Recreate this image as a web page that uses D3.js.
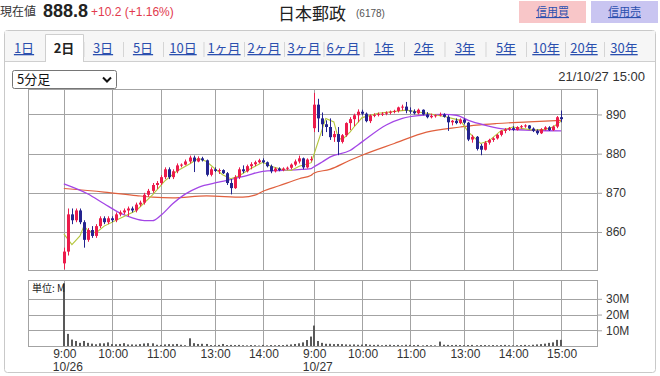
<!DOCTYPE html>
<html>
<head>
<meta charset="utf-8">
<script src="https://cdn.jsdelivr.net/npm/d3@7"></script>
<style>
  body { margin: 0; background: #fff; }
  svg { display: block; }
  text { font-family: "Liberation Sans", Arial, "Noto Sans CJK JP", sans-serif; }
  .jp { font-family: "Noto Sans CJK JP", sans-serif; }
</style>
</head>
<body>
<script>
// GLOBAL VARIABLES
const WIDTH = 660;
const HEIGHT = 376;

// DATA (5-minute bars, 10/26 and 10/27, 62 bars per day)
const days = ["10/26", "10/27"];
const tabs = ["1日", "2日", "3日", "5日", "10日", "1ヶ月", "2ヶ月", "3ヶ月", "6ヶ月", "1年", "2年", "3年", "5年", "10年", "20年", "30年"];
const tabX = [24, 64, 103, 143, 183, 224, 264, 304, 343, 384, 424, 465, 506, 546, 584, 624];
const xTickSlots = [0, 12, 24, 37, 49, 62, 74, 86, 99, 111, 123];
const xTickLabels = ["9:00", "10:00", "11:00", "13:00", "14:00", "9:00", "10:00", "11:00", "13:00", "14:00", "15:00"];
const priceTicks = [860, 870, 880, 890];
const volumeTicks = [10, 20, 30];

const opens = [
  852, 855, 864.5, 863, 865.5, 862.5, 858, 860.5, 859, 861.5,
  863.5, 862.5, 863.5, 863, 864.5, 865, 865.5, 866, 865.5, 867,
  867.5, 869.5, 870.5, 872, 872.5, 874, 876, 874, 875.5, 877,
  877.2, 878, 879, 878, 878.8, 878.3, 874.6, 876, 875.6, 875.8,
  875, 872.5, 871.2, 874, 876, 875.5, 876.8, 877.3, 877.8, 878.3,
  877.8, 876.8, 875.5, 876.2, 875.8, 876.2, 876.4, 877.2, 878, 878.8,
  876.5, 878.5,
  886.5, 892.5, 889, 887.5, 886.8, 884.2, 885, 883, 884.7, 887.8,
  888.8, 889.8, 890.7, 890.2, 888.3, 889.7, 889.9, 890.1, 890.2, 890.5,
  890.7, 890.9, 891.8, 892, 891, 890.8, 890.3, 891.2, 890, 889.3,
  889.6, 889.8, 890, 889.4, 888, 888.4, 887.8, 888.7, 887.9, 883.6,
  884.3, 882, 881, 882.8, 883.5, 883.9, 884.8, 885.8, 886.2, 886.5,
  886.1, 886.8, 887, 887.2, 886.4, 885.8, 885.2, 886.2, 886.7, 886,
  886.9, 889.3
];
const highs = [
  856, 866, 866, 866, 866, 863, 861, 861.5, 862, 864,
  864, 864, 864, 865, 865.5, 866, 866.5, 866.5, 867.5, 868,
  870, 871, 872.5, 873, 874.5, 876.5, 876.5, 876, 877.5, 877.5,
  878.5, 879.5, 879.5, 879.3, 879.2, 878.5, 876.5, 876.5, 876.2, 876,
  875.3, 873.5, 874.5, 876.5, 877, 877.2, 877.8, 878.2, 878.7, 878.8,
  878, 877.2, 876.5, 876.5, 876.5, 876.7, 877.5, 878.5, 879.5, 879,
  878.8, 879.3,
  895.5, 894, 890.5, 888.5, 889, 885.8, 886.8, 885, 888, 889.3,
  890.2, 891.3, 891.2, 890.5, 890, 890.3, 890.5, 890.6, 890.8, 891,
  891.2, 892, 892.5, 893.2, 891.8, 891.3, 891.5, 891.3, 890.6, 890.2,
  890, 890.5, 890.3, 889.8, 888.6, 889, 889, 889, 888.1, 884.8,
  884.5, 882.5, 883.2, 883.8, 884.2, 885, 886, 886.5, 886.8, 887,
  887, 887.3, 887.5, 887.3, 886.7, 886.2, 886.5, 887, 887, 887.2,
  889.6, 891
];
const lows = [
  850.5, 854, 862, 862.5, 862, 856, 857.5, 858.5, 858.5, 861,
  862, 862, 862.5, 862.5, 864, 864.5, 864, 865, 865, 866.5,
  867, 869, 870, 871, 872, 873.5, 873.5, 873.5, 875, 876.5,
  877, 877.5, 875.3, 877.8, 878, 874.2, 874.2, 875.3, 874.8, 874.8,
  872, 869.6, 871, 873.5, 875, 875.2, 876, 876.8, 877.5, 877.5,
  876.5, 875, 875.2, 875.5, 875.5, 875.8, 876, 876.8, 877.5, 876,
  876.2, 878,
  885.5, 885.5, 884.5, 885.5, 883.5, 883, 879.6, 882.6, 884.3, 886,
  887, 888, 889.8, 888, 887.8, 889.3, 889.5, 889.6, 889.8, 890,
  890.3, 890.5, 891, 890.3, 890.2, 890, 890, 889.8, 889, 889,
  889.2, 889.5, 889.2, 885.8, 887.2, 887.5, 887.5, 887.5, 883.2, 882.8,
  880.8, 879.6, 880.8, 882.3, 883, 883.6, 884.4, 885.2, 885.8, 885.8,
  885.9, 886.4, 886.6, 886.2, 885.5, 884.8, 885, 885.9, 885.8, 885.8,
  886.5, 888
];
const closes = [
  855, 864.5, 863, 865.5, 862.5, 858, 860.5, 859, 861.5, 863.5,
  862.5, 863.5, 863, 864.5, 865, 865.5, 866, 865.5, 867, 867.5,
  869.5, 870.5, 872, 872.5, 874, 876, 874, 875.5, 877, 877.2,
  878, 879, 878, 878.8, 878.3, 874.6, 876, 875.6, 875.8, 875,
  872.5, 871.2, 874, 876, 875.5, 876.8, 877.3, 877.8, 878.3, 877.8,
  876.8, 875.5, 876.2, 875.8, 876.2, 876.4, 877.2, 878, 878.8, 876.5,
  878.5, 878.6,
  892.5, 889, 887.5, 886.8, 884.2, 885, 883, 884.7, 887.8, 888.8,
  889.8, 890.7, 890.2, 888.3, 889.7, 889.9, 890.1, 890.2, 890.5, 890.7,
  890.9, 891.8, 892, 891, 890.8, 890.3, 891.2, 890, 889.3, 889.6,
  889.8, 890, 889.4, 888, 888.4, 887.8, 888.7, 887.9, 883.6, 884.3,
  881.2, 881, 882.8, 883.5, 883.9, 884.8, 885.8, 886.2, 886.5, 886.1,
  886.8, 887, 887.2, 886.4, 885.8, 885.2, 886.2, 886.7, 886, 886.9,
  889.3, 888.8
];
// volume, millions of shares
const volumes = [
  40, 7.7, 4.1, 3.2, 2.0, 3.2, 2.0, 1.5, 1.1, 1.7,
  1.7, 2.3, 1.2, 1.1, 1.3, 1.8, 1.0, 1.0, 0.9, 1.2,
  1.6, 1.8, 1.7, 0.8, 0.7, 1.0, 1.2, 1.1, 1.3, 0.8,
  0.5, 4.9, 1.8, 1.3, 1.4, 1.3, 0.6, 0.5, 0.7, 1.3,
  0.6, 0.7, 0.6, 0.7, 0.5, 0.4, 0.6, 0.5, 0.3, 0.7,
  0.4, 0.6, 0.5, 0.6, 0.6, 0.8, 1.0, 1.3, 1.7, 2.3,
  3.8, 6.0,
  13, 3.2, 2.0, 1.4, 1.4, 1.2, 1.3, 1.2, 1.0, 0.9,
  1.0, 0.8, 0.9, 1.2, 0.8, 0.7, 0.8, 0.5, 0.7, 0.8,
  0.6, 0.7, 0.5, 0.8, 0.7, 0.6, 0.7, 0.4, 0.6, 0.5,
  0.4, 2.8, 0.8, 0.7, 0.6, 0.7, 0.6, 0.5, 0.6, 0.7,
  0.5, 0.6, 0.6, 0.5, 0.6, 0.5, 0.6, 0.7, 0.5, 0.4,
  0.5, 0.6, 0.7, 0.5, 0.8, 1.0, 1.2, 1.5, 2.0, 2.3,
  3.9, 3.9
];
// moving averages: [slot, value]
const maShort = [[0,859.5],[2,856.8],[4,859],[5,861.6],[6,860.3],[8,859.8],[10,861.5],[14,863.5],[18,865.5],[22,869.5],[25,873],[28,875.5],[31,877.5],[33,878.8],[35,878],[37,876.2],[39,874.6],[41,873.6],[43,874.3],[46,876.2],[48,877.3],[49,877.8],[51,876.8],[54,875.9],[56,875.7],[58,876.8],[61,877.7],[62,879.6],[65,889],[67,888.1],[68,884.3],[69,883.5],[71,885.5],[72,886.8],[74,889.2],[78,890.3],[85,891.1],[90,890.3],[94,889.5],[98,888.5],[100,885.5],[103,882.6],[105,883.2],[108,885.8],[111,886.8],[116,886],[119,886.2],[121,886.8],[123,888.3]];
const maMid = [[0,872.3],[6,869.7],[10,867.2],[14,864.8],[17,863.6],[20,862.9],[22,862.9],[24,864.2],[27,867.2],[30,869.6],[33,871.4],[38,872.7],[45,874.4],[49,875.5],[53,875.7],[61,876.2],[62,876.6],[64,877.8],[66,879.1],[71,880.8],[74,883],[80,887.3],[84,889],[88,889.7],[94,890],[97,889.8],[100,888.5],[104,887.3],[108,886.4],[112,886.1],[123,885.8]];
const maLong = [[0,871.1],[10,870.2],[18,869.3],[22,868.9],[27,868.7],[35,869.2],[44,868.9],[47,869.4],[49,870.4],[53,871.8],[58,873.6],[61,874.5],[62,875],[66,876],[71,878.3],[74,879.6],[82,882.6],[90,885.5],[98,886.8],[102,887.3],[107,887.7],[115,888.1],[123,888.5]];

const bars = opens.map((o, i) => ({ i, o, h: highs[i], l: lows[i], c: closes[i], v: volumes[i] }));

// position of slot on the time axis (small gap after the lunch break)
const slotPos = i => {
  const k = i % 62;
  return Math.floor(i / 62) * 62 + k + (k >= 31 ? 0.4 : 0);
};

const svg = d3.select("body").append("svg").attr("width", WIDTH).attr("height", HEIGHT);

// HEADER
svg.append("text").attr("class", "jp").attr("x", 0).attr("y", 16).attr("font-size", 12).attr("fill", "#333").text("現在値");
svg.append("text").attr("x", 43).attr("y", 17).attr("font-size", 18).attr("font-weight", "bold").attr("fill", "#222").text("888.8");
svg.append("text").attr("x", 91).attr("y", 16).attr("font-size", 12).attr("fill", "#e23a4e").text("+10.2 (+1.16%)");
svg.append("text").attr("class", "jp").attr("x", 278).attr("y", 20).attr("font-size", 17).attr("fill", "#222").text("日本郵政");
svg.append("text").attr("x", 356).attr("y", 17).attr("font-size", 10).attr("fill", "#555").text("(6178)");

const buttons = [
  { label: "信用買", x: 519, fill: "#f8c6c8" },
  { label: "信用売", x: 591, fill: "#c9c5f1" }
];
svg.selectAll(".btn").data(buttons).enter().append("rect")
  .attr("x", d => d.x).attr("y", 1).attr("width", 67).attr("height", 22).attr("fill", d => d.fill);
svg.selectAll(".btnText").data(buttons).enter().append("text")
  .attr("class", "jp").attr("x", d => d.x + 33.5).attr("y", 16).attr("text-anchor", "middle")
  .attr("font-size", 11).attr("fill", "#2b4fae").style("text-decoration", "underline").text(d => d.label);

// PANEL + TABS
svg.append("rect").attr("x", 4.5).attr("y", 30.5).attr("width", 651).attr("height", 342).attr("rx", 3)
  .attr("fill", "#fff").attr("stroke", "#c9c9c9");
svg.append("rect").attr("x", 5).attr("y", 31).attr("width", 650).attr("height", 31).attr("fill", "#f6f6f6");
svg.append("line").attr("x1", 5).attr("x2", 655).attr("y1", 61.5).attr("y2", 61.5).attr("stroke", "#cfcfcf");
svg.append("path").attr("d", "M45.5,62 V34.5 H83.5 V62").attr("fill", "#fff").attr("stroke", "#cfcfcf");
svg.append("rect").attr("x", 46).attr("y", 35).attr("width", 37).attr("height", 28).attr("fill", "#fff");

svg.selectAll(".tab").data(tabs).enter().append("text")
  .attr("class", "jp").attr("x", (d, i) => tabX[i]).attr("y", 53).attr("text-anchor", "middle")
  .attr("font-size", 13)
  .attr("font-weight", (d, i) => i === 1 ? "bold" : "normal")
  .attr("fill", (d, i) => i === 1 ? "#222" : "#2b4fae")
  .style("text-decoration", (d, i) => i === 1 ? "none" : "underline")
  .text(d => d);
svg.selectAll(".sep").data(tabX.slice(2)).enter().append("line")
  .attr("x1", (d, i) => (d + tabX[i + 1]) / 2 + 0.5).attr("x2", (d, i) => (d + tabX[i + 1]) / 2 + 0.5)
  .attr("y1", 42).attr("y2", 57).attr("stroke", "#d5d5d5");

// dropdown
svg.append("rect").attr("x", 12.5).attr("y", 70.5).attr("width", 104).attr("height", 18).attr("rx", 2)
  .attr("fill", "#fff").attr("stroke", "#767676");
svg.append("text").attr("class", "jp").attr("x", 17).attr("y", 84).attr("font-size", 13).attr("fill", "#111").text("5分足");
svg.append("path").attr("d", "M103,77.5 L107,81.5 L111,77.5").attr("fill", "none").attr("stroke", "#111").attr("stroke-width", 2);
svg.append("text").attr("x", 645).attr("y", 81).attr("text-anchor", "end").attr("font-size", 13).attr("fill", "#333").text("21/10/27 15:00");

// SCALES
const PLOT = { left: 28, right: 597, top: 89, bottom: 270 };
const VOL = { top: 280, bottom: 346 };
const x = d3.scaleLinear().domain([-8.9, 132.3]).range([PLOT.left, PLOT.right]);
const y = d3.scaleLinear().domain([850.3, 896.5]).range([PLOT.bottom, PLOT.top]);
const yVol = d3.scaleLinear().domain([0, 42]).range([VOL.bottom, VOL.top]);
const GRID = "#a3a3a3";

// GRID: price panel
const priceG = svg.append("g");
priceG.append("g").attr("transform", `translate(${PLOT.right},0)`)
  .call(d3.axisRight(y).tickValues(priceTicks).tickSize(5).tickPadding(4).tickFormat(d3.format("d")))
  .call(g => g.select(".domain").remove())
  .call(g => g.selectAll("line").attr("stroke", GRID))
  .call(g => g.selectAll("text").attr("font-size", 12).attr("fill", "#333").attr("font-family", null));
priceG.selectAll(".hgrid").data(priceTicks).enter().append("line")
  .attr("x1", PLOT.left).attr("x2", PLOT.right)
  .attr("y1", d => Math.round(y(d)) + 0.5).attr("y2", d => Math.round(y(d)) + 0.5).attr("stroke", GRID);
priceG.selectAll(".vgrid").data(xTickSlots).enter().append("line")
  .attr("x1", d => Math.round(x(slotPos(d))) + 0.5).attr("x2", d => Math.round(x(slotPos(d))) + 0.5)
  .attr("y1", PLOT.top).attr("y2", PLOT.bottom).attr("stroke", GRID);
priceG.append("rect").attr("x", PLOT.left + 0.5).attr("y", PLOT.top + 0.5)
  .attr("width", PLOT.right - PLOT.left).attr("height", PLOT.bottom - PLOT.top)
  .attr("fill", "none").attr("stroke", GRID);

// GRID: volume panel
const volG = svg.append("g");
volG.append("g").attr("transform", `translate(${PLOT.right},0)`)
  .call(d3.axisRight(yVol).tickValues(volumeTicks).tickSize(5).tickPadding(4).tickFormat(d => d + "M"))
  .call(g => g.select(".domain").remove())
  .call(g => g.selectAll("line").attr("stroke", GRID))
  .call(g => g.selectAll("text").attr("font-size", 12).attr("fill", "#333").attr("font-family", null));
volG.selectAll(".hgrid").data(volumeTicks).enter().append("line")
  .attr("x1", PLOT.left).attr("x2", PLOT.right)
  .attr("y1", d => Math.round(yVol(d)) + 0.5).attr("y2", d => Math.round(yVol(d)) + 0.5).attr("stroke", GRID);
volG.selectAll(".vgrid").data(xTickSlots).enter().append("line")
  .attr("x1", d => Math.round(x(slotPos(d))) + 0.5).attr("x2", d => Math.round(x(slotPos(d))) + 0.5)
  .attr("y1", VOL.top).attr("y2", VOL.bottom).attr("stroke", GRID);
volG.append("rect").attr("x", PLOT.left + 0.5).attr("y", VOL.top + 0.5)
  .attr("width", PLOT.right - PLOT.left).attr("height", VOL.bottom - VOL.top)
  .attr("fill", "none").attr("stroke", GRID);

// x labels
svg.selectAll(".xlab").data(xTickSlots).enter().append("text")
  .attr("x", d => x(slotPos(d)) + 1).attr("y", 358).attr("text-anchor", "middle")
  .attr("font-size", 12).attr("fill", "#333").text((d, i) => xTickLabels[i]);
svg.selectAll(".dlab").data(days).enter().append("text")
  .attr("x", (d, i) => x(slotPos(i * 62)) - 11).attr("y", 371)
  .attr("font-size", 12).attr("fill", "#333").text(d => d);

// CLIP
svg.append("clipPath").attr("id", "clipPrice").append("rect")
  .attr("x", PLOT.left).attr("y", PLOT.top).attr("width", PLOT.right - PLOT.left).attr("height", PLOT.bottom - PLOT.top);
svg.append("clipPath").attr("id", "clipVol").append("rect")
  .attr("x", PLOT.left).attr("y", VOL.top + 1).attr("width", PLOT.right - PLOT.left).attr("height", VOL.bottom - VOL.top);

// VOLUME BARS
svg.append("g").attr("clip-path", "url(#clipVol)")
  .selectAll("rect").data(bars).enter().append("rect")
  .attr("x", d => Math.round(x(slotPos(d.i))) - 1)
  .attr("width", 2)
  .attr("y", d => yVol(d.v))
  .attr("height", d => VOL.bottom - yVol(d.v))
  .attr("fill", "#595959");

svg.append("text").attr("class", "jp").attr("x", 32).attr("y", 292).attr("font-size", 10).attr("fill", "#222").text("単位: M");

// MOVING AVERAGES
const maG = svg.append("g").attr("clip-path", "url(#clipPrice)");
const maLine = d3.line().x(d => x(slotPos(d[0]))).y(d => y(d[1])).curve(d3.curveMonotoneX);
maG.append("path").datum(maLong).attr("d", maLine).attr("fill", "none").attr("stroke", "#e0603e").attr("stroke-width", 1.2);
maG.append("path").datum(maMid).attr("d", maLine).attr("fill", "none").attr("stroke", "#a346e6").attr("stroke-width", 1.3);

// CANDLES
const RED = "#ec1c4c";
const BLUE = "#24248f";
const candleG = svg.append("g").attr("clip-path", "url(#clipPrice)");
const candles = candleG.selectAll("g").data(bars).enter().append("g");
candles.append("line")
  .attr("x1", d => Math.round(x(slotPos(d.i))) + 0.5).attr("x2", d => Math.round(x(slotPos(d.i))) + 0.5)
  .attr("y1", d => y(d.h)).attr("y2", d => y(d.l))
  .attr("stroke", d => d.c >= d.o ? RED : BLUE);
candles.append("rect")
  .attr("x", d => Math.round(x(slotPos(d.i))) - 1)
  .attr("width", 3)
  .attr("y", d => y(Math.max(d.o, d.c)))
  .attr("height", d => Math.max(1, Math.abs(y(d.o) - y(d.c))))
  .attr("fill", d => d.c >= d.o ? RED : BLUE);

maG.append("path").datum(maShort).attr("d", d3.line().x(d => x(slotPos(d[0]))).y(d => y(d[1])))
  .attr("fill", "none").attr("stroke", "#b4c63c").attr("stroke-width", 1.1);
</script>
</body>
</html>
